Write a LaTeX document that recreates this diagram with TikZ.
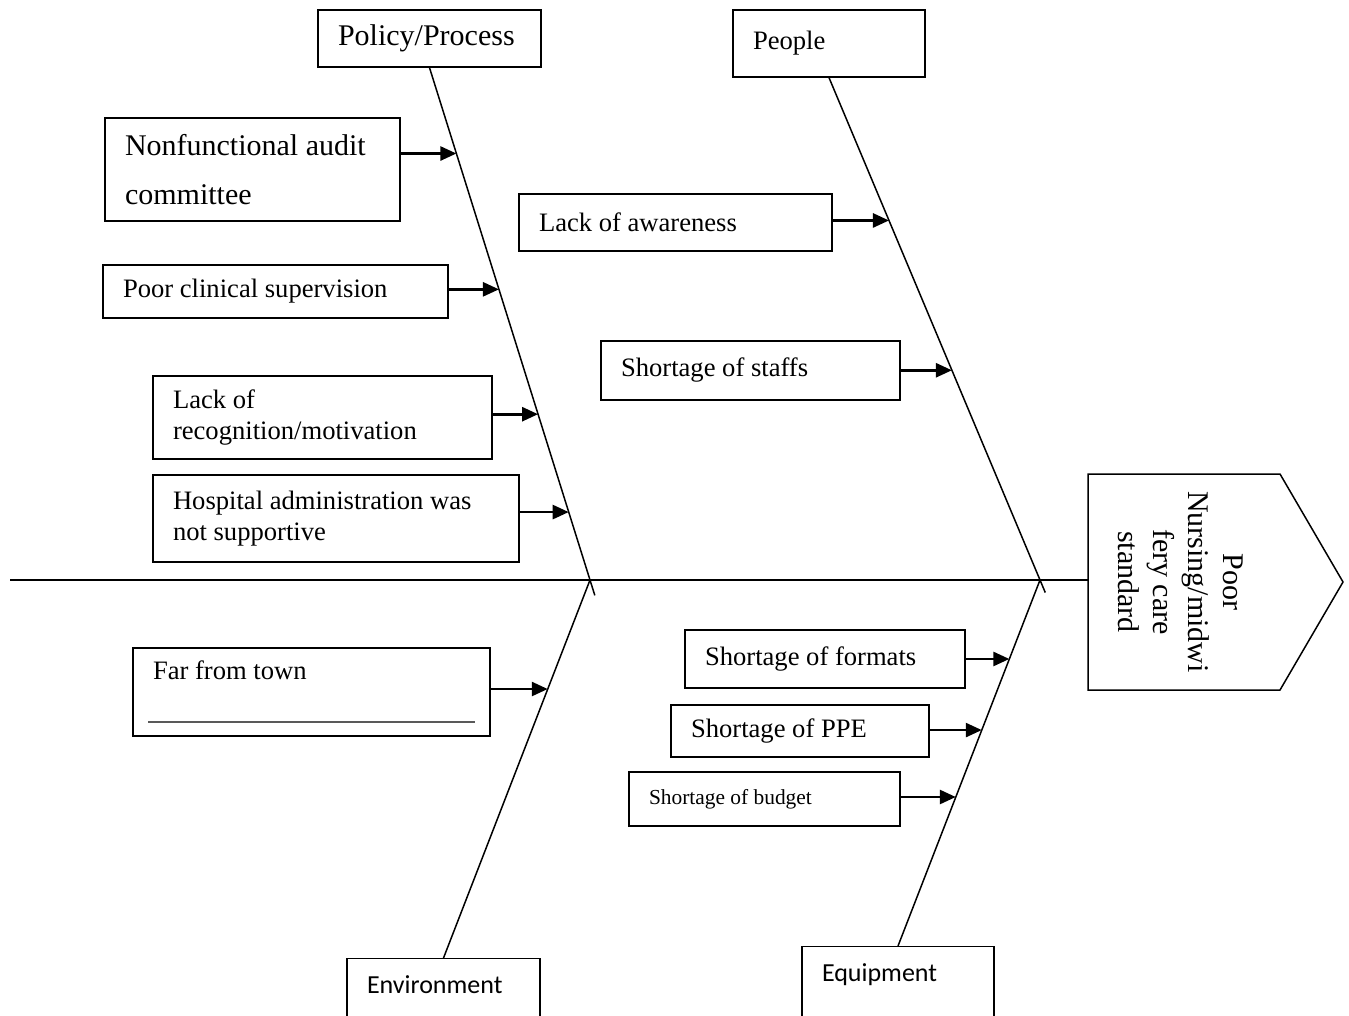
\documentclass[tikz,border=0pt]{standalone}
\usepackage{fontspec}
\setmainfont{Liberation Serif}
\newfontfamily\calibri{Carlito}
\usetikzlibrary{arrows.meta,calc}
\newcommand\bigfs{\fontsize{15}{17.5}\selectfont}
\newcommand\medfs{\fontsize{13.3}{15.5}\selectfont}
\newcommand\smallfs{\fontsize{10.7}{13}\selectfont}
\newcommand\calfs{\calibri\fontsize{13}{15}\selectfont}
\tikzset{
    cause/.style={draw, line width=0.65pt, align=left, inner xsep=10pt, font=\medfs,
        execute at begin node={\spaceskip=0pt\xspaceskip=0pt}},
    catbox/.style={cause, font=\calfs, inner ysep=5pt, text height=12.5pt, text depth=25pt, anchor=north},
    bone/.style={line width=0.75pt},
    spine/.style={line width=1pt},
    arr/.style={-{Triangle[length=8pt,width=7pt]}, line width=1.3pt}
}
\begin{document}
\begin{tikzpicture}[x=0.5pt,y=-0.5pt]
    \useasboundingbox (0,0) rectangle (1349,1016);
    \clip (0,0) rectangle (1349,1016);
    \node[cause, font=\bigfs, text width=91.5pt, minimum height=28.5pt] (pol) at (429.5,38.5) {Policy/Process};
    \node[cause, text width=76pt, minimum height=33.5pt] (ppl) at (829,43.5) {People};
    \node[catbox, text width=76.5pt] (env) at (443.5,958) {Environment};
    \node[catbox, text width=76pt] (equ) at (898,946) {Equipment};
    \draw[bone] (1088,474) -- (1280,474) -- (1343,582) -- (1280,690) -- (1088,690) -- cycle;
    \node[rotate=-90, align=center, font=\bigfs] (effect) at (1181,582) {Poor\\Nursing/midwi\\fery care\\standard};
    \coordinate (tail) at (10,580);
    \coordinate (hd-w) at (1088,580);
    \coordinate (jL) at (590,580);
    \coordinate (jR) at (1040,580);
    \draw[spine] (tail) -- (hd-w);
    \draw[bone] (pol.south) -- ($(pol.south)!1.03!(jL)$);
    \draw[bone] (ppl.south) -- ($(ppl.south)!1.025!(jR)$);
    \draw[bone] (jL) -- (env.north);
    \draw[bone] (jR) -- (equ.north);
    \node[cause, font=\fontsize{15}{24.5}\selectfont, text width=127.5pt, minimum height=51.5pt] (c1) at (252.5,169.5) {Nonfunctional audit\\committee};
    \node[cause, text width=152.5pt, minimum height=26.5pt] (c2) at (275.5,291.5) {Poor clinical supervision};
    \node[cause, text width=149.5pt, minimum height=41.5pt] (c3) at (322.5,417.5) {Lack of\\recognition/motivation};
    \node[cause, text width=163pt, minimum height=43.5pt] (c4) at (336,518.5) {Hospital administration was\\not supportive};
    \node[cause, text width=136.5pt, minimum height=28.5pt] (c5) at (675.5,222.5) {Lack of awareness};
    \node[cause, text width=129.5pt, minimum height=29.5pt] (c6) at (750.5,370.5) {Shortage of staffs};
    \node[cause, text width=158.5pt, minimum height=44pt] (c7) at (311.5,692) {Far from town\\[6pt]\hspace*{-2.5pt}\textcolor{black!65}{\rule{163.5pt}{0.8pt}}};
    \node[cause, text width=120pt, minimum height=29pt] (c8) at (825,659) {Shortage of formats};
    \node[cause, text width=109pt, minimum height=26pt] (c9) at (800,731) {Shortage of PPE};
    \node[cause, font=\smallfs, text width=115.5pt, minimum height=27pt] (c10) at (764.5,799) {Shortage of budget};
    \coordinate (t1) at ($(pol.south)!0.1676!(jL)$);
    \coordinate (t2) at ($(pol.south)!0.4327!(jL)$);
    \coordinate (t3) at ($(pol.south)!0.6764!(jL)$);
    \coordinate (t4) at ($(pol.south)!0.8674!(jL)$);
    \coordinate (t5) at ($(ppl.south)!0.2843!(jR)$);
    \coordinate (t6) at ($(ppl.south)!0.5825!(jR)$);
    \coordinate (t7) at ($(jL)!0.2884!(env.north)$);
    \coordinate (t8) at ($(jR)!0.2158!(equ.north)$);
    \coordinate (t9) at ($(jR)!0.41!(equ.north)$);
    \coordinate (t10) at ($(jR)!0.5929!(equ.north)$);
    \foreach \i in {1,...,10}
        \draw[arr] (c\i.east |- t\i) -- (t\i);
\end{tikzpicture}
\end{document}
